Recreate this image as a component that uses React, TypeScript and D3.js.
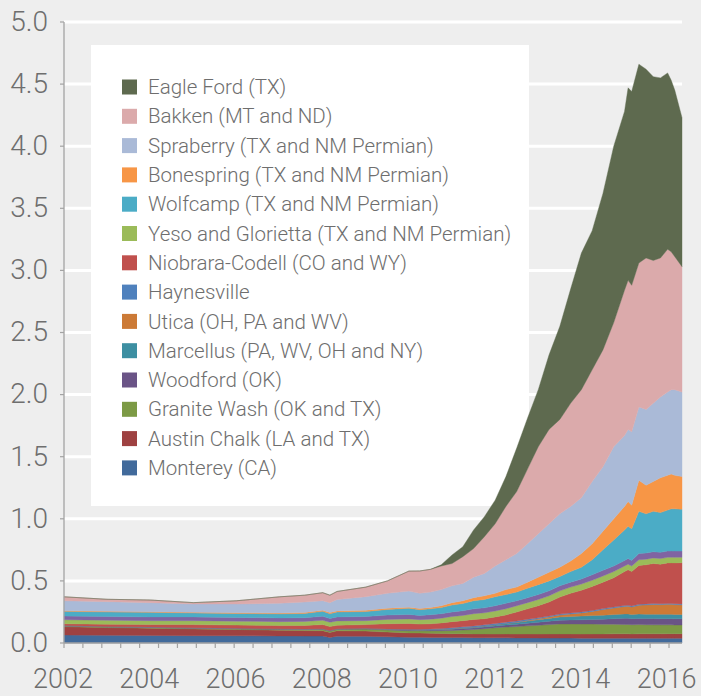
import React from "react";
import * as d3 from "d3";

// monthly samples (million barrels per day)
const months = [
  "2002-01", "2003-01", "2004-01", "2005-01", "2006-01", "2007-01", "2007-08", "2008-01", "2008-03", "2008-05",
  "2009-01", "2009-07", "2010-01", "2010-04", "2010-07", "2010-10", "2011-01", "2011-04", "2011-07", "2011-10",
  "2012-01", "2012-04", "2012-07", "2012-10", "2013-01", "2013-04", "2013-07", "2013-10", "2014-01", "2014-04",
  "2014-07", "2014-10", "2015-01", "2015-02", "2015-03", "2015-05", "2015-07", "2015-09", "2015-11", "2016-01",
  "2016-02", "2016-03", "2016-05"
];

const monterey = [.064, .062, .061, .059, .058, .057, .056, .056, .045, .055, .054, .050, .046, .046, .045, .045, .044, .044, .043, .043, .042, .042, .041, .041, .040, .040, .040, .040, .039, .039, .039, .039, .039, .039, .038, .038, .038, .038, .038, .038, .038, .038, .038];
const austinChalk = [.067, .062, .058, .054, .050, .046, .044, .043, .040, .043, .042, .038, .035, .034, .033, .032, .031, .031, .030, .030, .030, .031, .031, .032, .032, .033, .033, .033, .033, .034, .034, .035, .035, .035, .035, .036, .036, .036, .036, .037, .037, .037, .037];
const graniteWash = [.005, .005, .005, .005, .006, .008, .009, .011, .010, .012, .016, .017, .018, .018, .020, .022, .025, .030, .035, .042, .050, .055, .060, .065, .070, .075, .080, .080, .080, .079, .078, .077, .075, .075, .074, .074, .073, .072, .072, .071, .071, .070, .070];
const woodford = [.002, .002, .002, .002, .002, .002, .002, .003, .003, .003, .003, .004, .005, .005, .006, .008, .010, .011, .012, .013, .015, .017, .019, .022, .025, .028, .031, .033, .035, .038, .041, .045, .050, .050, .049, .050, .050, .051, .050, .050, .050, .050, .050];
const marcellus = [.001, .001, .001, .001, .001, .001, .001, .001, .001, .001, .001, .002, .003, .003, .004, .004, .005, .006, .007, .008, .010, .012, .014, .017, .020, .022, .025, .028, .030, .031, .032, .033, .035, .035, .034, .035, .035, .035, .035, .035, .035, .035, .035];
const utica = [0, 0, 0, 0, 0, 0, 0, 0, 0, 0, 0, 0, 0, 0, 0, 0, 0, 0, 0, 0, 0, .001, .003, .005, .008, .012, .016, .020, .025, .033, .045, .053, .060, .062, .060, .070, .075, .078, .078, .080, .080, .079, .077];
const haynesville = [.001, .001, .001, .001, .001, .001, .001, .001, .001, .001, .002, .002, .003, .004, .005, .006, .008, .009, .010, .010, .010, .010, .009, .009, .008, .008, .008, .008, .008, .008, .008, .008, .008, .008, .008, .008, .008, .008, .008, .008, .008, .008, .008];
const niobrara = [.015, .018, .020, .026, .026, .025, .028, .033, .032, .028, .030, .042, .048, .042, .042, .045, .049, .049, .053, .050, .053, .058, .073, .084, .097, .112, .137, .158, .175, .193, .213, .235, .273, .286, .277, .314, .315, .322, .318, .326, .326, .328, .332];
const yeso = [.032, .032, .032, .032, .032, .032, .033, .035, .035, .035, .032, .035, .036, .036, .037, .038, .041, .042, .046, .047, .048, .050, .050, .050, .050, .050, .050, .050, .050, .050, .050, .050, .045, .045, .045, .045, .045, .045, .045, .045, .045, .045, .043];
const otherPurple = [.030, .030, .030, .030, .030, .030, .030, .032, .030, .032, .033, .035, .036, .034, .036, .036, .037, .038, .039, .040, .042, .044, .040, .040, .040, .040, .040, .040, .040, .045, .045, .045, .045, .045, .045, .050, .050, .050, .050, .050, .050, .050, .050];
const wolfcamp = [.038, .037, .037, .032, .032, .033, .034, .040, .039, .040, .040, .045, .050, .046, .047, .049, .056, .058, .065, .067, .073, .070, .070, .075, .080, .080, .075, .085, .095, .120, .165, .210, .245, .260, .255, .340, .315, .325, .320, .330, .340, .340, .336];
const bonespring = [.005, .005, .005, .005, .006, .006, .007, .008, .009, .008, .010, .010, .008, .010, .010, .015, .019, .022, .025, .030, .027, .040, .040, .050, .060, .070, .075, .085, .110, .130, .150, .170, .190, .200, .190, .250, .230, .240, .280, .280, .280, .270, .264];
const spraberry = [.080, .078, .073, .067, .070, .079, .085, .077, .080, .092, .110, .120, .130, .122, .125, .130, .135, .140, .165, .180, .220, .240, .270, .310, .350, .390, .430, .440, .450, .500, .520, .580, .570, .580, .590, .590, .610, .630, .650, .670, .680, .690, .680];
const bakken = [.032, .019, .021, .011, .026, .052, .055, .065, .060, .065, .077, .100, .161, .180, .183, .190, .180, .215, .230, .296, .340, .430, .500, .600, .700, .760, .760, .830, .870, .900, .940, 1.000, 1.170, 1.200, 1.180, 1.160, 1.220, 1.150, 1.120, 1.150, 1.110, 1.070, 1.010];
const eagleFord = [0, 0, 0, 0, 0, 0, 0, 0, 0, 0, 0, 0, 0, 0, 0, .010, .069, .080, .150, .161, .190, .240, .350, .410, .460, .600, .750, .920, 1.100, 1.120, 1.260, 1.420, 1.440, 1.550, 1.560, 1.600, 1.520, 1.480, 1.450, 1.420, 1.380, 1.340, 1.200];

// stacking order, bottom to top
const layers = [
  { key: "Monterey (CA)", color: "#416a9b", values: monterey, legend: true },
  { key: "Austin Chalk (LA and TX)", color: "#9e4141", values: austinChalk, legend: true },
  { key: "Granite Wash (OK and TX)", color: "#7c9a45", values: graniteWash, legend: true },
  { key: "Woodford (OK)", color: "#6a5486", values: woodford, legend: true },
  { key: "Marcellus (PA, WV, OH and NY)", color: "#3d8fa2", values: marcellus, legend: true },
  { key: "Utica (OH, PA and WV)", color: "#cc7a36", values: utica, legend: true },
  { key: "Haynesville", color: "#4f81bd", values: haynesville, legend: true },
  { key: "Niobrara-Codell (CO and WY)", color: "#c0504d", values: niobrara, legend: true },
  { key: "Yeso and Glorietta (TX and NM Permian)", color: "#9bbb59", values: yeso, legend: true },
  { key: "Other", color: "#8064a2", values: otherPurple, legend: false },
  { key: "Wolfcamp (TX and NM Permian)", color: "#4bacc6", values: wolfcamp, legend: true },
  { key: "Bonespring (TX and NM Permian)", color: "#f79646", values: bonespring, legend: true },
  { key: "Spraberry (TX and NM Permian)", color: "#aabad7", values: spraberry, legend: true },
  { key: "Bakken (MT and ND)", color: "#dbaaab", values: bakken, legend: true },
  { key: "Eagle Ford (TX)", color: "#5e6a4f", values: eagleFord, legend: true }
];

const yTicks = [0, 0.5, 1, 1.5, 2, 2.5, 3, 3.5, 4, 4.5, 5];
const yearLabels = [2002, 2004, 2006, 2008, 2010, 2012, 2014, 2016];

const font = "Roboto, 'Liberation Sans', Arial, sans-serif";
const textColor = "#6e6e6e";
const axisColor = "#a3a3a3";

export default function App() {
  const width = 701;
  const height = 696;
  const plotLeft = 64;
  const plotRight = 682;
  const plotTop = 22;
  const plotBottom = 643;

  const toYear = (m: string) => {
    const [yy, mm] = m.split("-").map(Number);
    return yy + (mm - 1) / 12;
  };
  const times = months.map(toYear);

  const x = d3.scaleLinear().domain([2002, 2016 + 4 / 12]).range([plotLeft, plotRight]);
  const y = d3.scaleLinear().domain([0, 5]).range([plotBottom, plotTop]);

  const rows = times.map((t, i) => {
    const r: any = { t };
    layers.forEach((l) => (r[l.key] = l.values[i]));
    return r;
  });
  const series = d3.stack().keys(layers.map((l) => l.key))(rows);
  const area = d3
    .area<any>()
    .x((d) => x(d.data.t))
    .y0((d) => y(d[0]))
    .y1((d) => y(d[1]));

  const minorTicks = d3.range(2002, 2016.3, 0.4385);
  const legendItems = layers.filter((l) => l.legend).slice().reverse();

  return (
    <svg width={width} height={height} style={{ position: "absolute", left: 0, top: 0 }}>
      <rect width={width} height={height} fill="#eeeeee" />

      {/* gridlines */}
      {yTicks.slice(1).map((v) => (
        <line key={v} x1={plotLeft} x2={plotRight} y1={y(v)} y2={y(v)} stroke="#ffffff" strokeWidth={3} />
      ))}

      {/* legend background sits behind the areas */}
      <rect x={91} y={45} width={438} height={461} fill="#ffffff" />

      {series.map((s, i) => (
        <path key={s.key} d={area(s) || ""} fill={layers[i].color} stroke={layers[i].color} strokeWidth={0.4} />
      ))}

      {/* y axis */}
      <line x1={plotLeft} x2={plotLeft} y1={plotTop} y2={plotBottom} stroke={axisColor} strokeWidth={1.3} />
      {yTicks.map((v) => (
        <g key={v}>
          <line x1={plotLeft - 4} x2={plotLeft} y1={y(v)} y2={y(v)} stroke={axisColor} strokeWidth={1.2} />
          <text x={48} y={y(v) - 1} dy="0.35em" textAnchor="end" fontFamily={font} fontWeight={300}
            fontSize={28} fill={textColor}>
            {v.toFixed(1)}
          </text>
        </g>
      ))}

      {/* x axis */}
      <line x1={plotLeft} x2={plotRight} y1={plotBottom} y2={plotBottom} stroke={axisColor} strokeWidth={1.3} />
      {minorTicks.map((t) => (
        <line key={t} x1={x(t)} x2={x(t)} y1={plotBottom} y2={plotBottom + 5} stroke={axisColor} strokeWidth={1.2} />
      ))}
      {yearLabels.map((yr) => (
        <text key={yr} x={x(yr) - 1} y={688} textAnchor="middle" fontFamily={font} fontWeight={300}
          fontSize={27} fill={textColor}>
          {yr}
        </text>
      ))}

      {/* legend */}
      {legendItems.map((l, i) => {
        const cy = 87 + i * 29.3;
        return (
          <g key={l.key}>
            <rect x={122} y={cy - 7.5} width={15} height={15} fill={l.color} />
            <text x={148} y={cy} dy="0.35em" fontFamily={font} fontWeight={300} fontSize={20.5} fill={textColor}>
              {l.key}
            </text>
          </g>
        );
      })}
    </svg>
  );
}
